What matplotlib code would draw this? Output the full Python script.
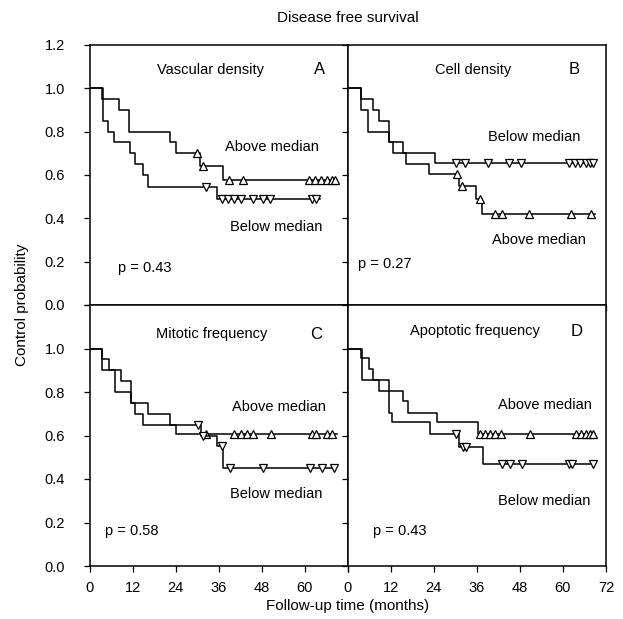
import matplotlib
matplotlib.use("Agg")
import matplotlib.pyplot as plt
import numpy as np

plt.rcParams["font.family"] = ["Liberation Sans", "DejaVu Sans"]

# ---------------------------------------------------------------------------
# Data: event times, survival after each event,
# censored times and end of follow-up for every group
# ---------------------------------------------------------------------------

# A - vascular density
a_hi_t = [3.3, 8.2, 11.0, 22.4, 24.1, 30.8, 37.3]
a_hi_s = [0.95, 0.90, 0.80, 0.75, 0.70, 0.64, 0.575]
a_hi_cens = [30.0, 31.5, 39.0, 42.7, 61.3, 63.0, 64.6, 66.2, 67.6, 68.4]
a_hi_end = 69.2
a_lo_t = [3.5, 5.1, 6.7, 11.2, 12.6, 14.9, 16.3, 35.4]
a_lo_s = [0.85, 0.80, 0.75, 0.70, 0.65, 0.60, 0.545, 0.488]
a_lo_cens = [32.4, 36.8, 38.6, 40.3, 42.2, 45.5, 48.5, 50.2, 62.0, 63.2]
a_lo_end = 64.3

# B - cell density
b_hi_t = [3.7, 5.8, 11.6, 12.7, 16.4, 22.7, 31.1, 35.8, 37.5]
b_hi_s = [0.90, 0.80, 0.75, 0.70, 0.65, 0.605, 0.55, 0.49, 0.42]
b_hi_cens = [30.5, 32.0, 37.0, 41.0, 42.9, 50.5, 62.2, 67.8]
b_hi_end = 68.8
b_lo_t = [3.7, 7.2, 8.8, 11.6, 15.5, 24.3]
b_lo_s = [0.95, 0.90, 0.85, 0.75, 0.70, 0.655]
b_lo_cens = [30.3, 32.6, 39.1, 45.1, 48.4, 61.8, 63.5, 64.8, 66.3, 67.6, 68.3]
b_lo_end = 68.6

# C - mitotic frequency
c_hi_t = [3.3, 7.0, 11.4, 12.6, 14.9, 24.0]
c_hi_s = [0.90, 0.80, 0.75, 0.70, 0.65, 0.605]
c_hi_cens = [32.4, 40.4, 42.2, 43.8, 45.5, 50.5, 62.0, 63.2, 66.4, 67.8]
c_hi_end = 69.0
c_lo_t = [3.3, 5.4, 8.6, 11.4, 16.3, 22.4, 31.0, 35.4, 37.3]
c_lo_s = [0.95, 0.90, 0.85, 0.75, 0.70, 0.65, 0.60, 0.55, 0.45]
c_lo_cens = [30.3, 31.6, 36.8, 39.1, 48.5, 61.5, 65.0, 68.3]
c_lo_end = 68.6

# D - apoptotic frequency
d_hi_t = [3.7, 6.1, 7.2, 8.8, 15.5, 16.9, 24.8, 36.3]
d_hi_s = [0.955, 0.905, 0.855, 0.805, 0.76, 0.705, 0.66, 0.605]
d_hi_cens = [37.0, 38.4, 39.6, 41.0, 42.8, 50.7, 63.7, 65.1, 66.4, 67.6, 68.3]
d_hi_end = 69.0
d_lo_t = [3.9, 11.6, 12.3, 22.9, 31.1, 37.7]
d_lo_s = [0.855, 0.705, 0.66, 0.605, 0.547, 0.47]
d_lo_cens = [30.3, 32.2, 32.9, 43.1, 45.3, 48.7, 61.8, 62.4, 68.5]
d_lo_end = 69.0

panel_titles = ["Vascular density", "Cell density", "Mitotic frequency", "Apoptotic frequency"]
panel_letters = ["A", "B", "C", "D"]
p_values = ["p = 0.43", "p = 0.27", "p = 0.58", "p = 0.43"]
# which label sits above the curves ("Above median" on top for A, C, D)
upper_labels = ["Above median", "Below median", "Above median", "Above median"]
lower_labels = ["Below median", "Above median", "Below median", "Below median"]

x_ticks = [0, 12, 24, 36, 48, 60, 72]
y_ticks = [0.0, 0.2, 0.4, 0.6, 0.8, 1.0, 1.2]


def km_xy(t, s, end):
    x = np.concatenate([[0.0], t, [end]])
    y = np.concatenate([[1.0], s, [s[-1]]])
    return x, y


def surv_at(t, s, times):
    idx = np.searchsorted(np.asarray(t), np.asarray(times), side="right")
    vals = np.concatenate([[1.0], s])
    return vals[idx]


def draw_group(ax, t, s, cens, end, marker):
    x, y = km_xy(t, s, end)
    ax.step(x, y, where="post", color="black", lw=1.1)
    ax.plot(cens, surv_at(t, s, cens), ls="none", marker=marker, ms=6,
            mfc="white", mec="black", mew=0.9)


fig = plt.figure(figsize=(6.23, 6.19), dpi=100)
W, H = 623.0, 619.0
boxes = [
    (90, 45, 347.5, 305),
    (347.5, 45, 606, 305),
    (90, 305, 347.5, 566),
    (347.5, 305, 606, 566),
]
axes = []
for (l, t, r, b) in boxes:
    axes.append(fig.add_axes([l / W, 1 - b / H, (r - l) / W, (b - t) / H]))

groups = [
    ((a_hi_t, a_hi_s, a_hi_cens, a_hi_end), (a_lo_t, a_lo_s, a_lo_cens, a_lo_end)),
    ((b_hi_t, b_hi_s, b_hi_cens, b_hi_end), (b_lo_t, b_lo_s, b_lo_cens, b_lo_end)),
    ((c_hi_t, c_hi_s, c_hi_cens, c_hi_end), (c_lo_t, c_lo_s, c_lo_cens, c_lo_end)),
    ((d_hi_t, d_hi_s, d_hi_cens, d_hi_end), (d_lo_t, d_lo_s, d_lo_cens, d_lo_end)),
]

# label positions (months, probability)
title_pos = [(33.6, 1.085), (35.1, 1.085), (34.0, 1.065), (35.6, 1.08)]
letter_pos = [(64.3, 1.085), (63.2, 1.085), (63.2, 1.065), (63.8, 1.08)]
upper_pos = [(51.0, 0.73), (52.1, 0.775), (52.7, 0.73), (54.9, 0.74)]
lower_pos = [(52.2, 0.36), (53.3, 0.30), (52.2, 0.33), (54.7, 0.30)]
p_pos = [(7.8, 0.17), (2.9, 0.19), (4.2, 0.16), (7.1, 0.16)]

for i, ax in enumerate(axes):
    hi, lo = groups[i]
    draw_group(ax, *hi, marker="^")
    draw_group(ax, *lo, marker="v")

    ax.set_xlim(0, 72)
    ax.set_ylim(0, 1.2)
    ax.set_xticks(x_ticks)
    ax.set_yticks(y_ticks)
    ax.tick_params(direction="out", length=4, width=0.9, labelsize=10.5)
    ax.tick_params(axis="y", pad=14)
    ax.tick_params(axis="x", pad=7)
    for sp in ax.spines.values():
        sp.set_linewidth(1.1)

    if i in (0, 2):
        labels = [f"{v:.1f}" for v in y_ticks]
        if i == 2:
            labels[-1] = ""
        ax.set_yticklabels(labels)
    else:
        ax.set_yticklabels([])
    if i == 2:
        ax.set_xticklabels([str(v) for v in x_ticks[:-1]] + [""])
    elif i == 3:
        ax.set_xticklabels([str(v) for v in x_ticks])
    else:
        ax.set_xticklabels([])

    ax.text(*title_pos[i], panel_titles[i], ha="center", va="center", fontsize=10.5)
    ax.text(*letter_pos[i], panel_letters[i], ha="center", va="center", fontsize=12)
    ax.text(*upper_pos[i], upper_labels[i], ha="center", va="center", fontsize=10.5)
    ax.text(*lower_pos[i], lower_labels[i], ha="center", va="center", fontsize=10.5)
    ax.text(*p_pos[i], p_values[i], ha="left", va="center", fontsize=10.5)

fig.text(348 / W, 1 - 18 / H, "Disease free survival", ha="center", va="center", fontsize=11)
fig.text(348 / W, 1 - 606 / H, "Follow-up time (months)", ha="center", va="center", fontsize=11)
fig.text(22 / W, 1 - 305 / H, "Control probability", ha="center", va="center",
         rotation=90, fontsize=11)

fig.savefig("out.png", dpi=100)
